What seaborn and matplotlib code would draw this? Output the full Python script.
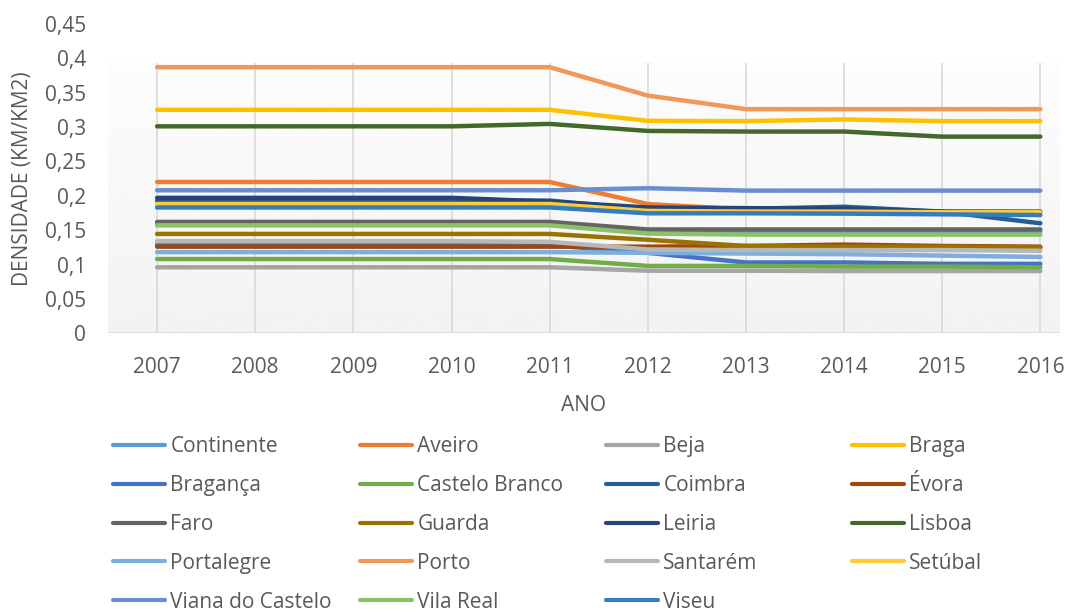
import matplotlib
matplotlib.use("Agg")
import matplotlib.pyplot as plt
import numpy as np
import pandas as pd
import seaborn as sns

years = [2007, 2008, 2009, 2010, 2011, 2012, 2013, 2014, 2015, 2016]

regions = ["Continente", "Aveiro", "Beja", "Braga", "Bragança", "Castelo Branco",
           "Coimbra", "Évora", "Faro", "Guarda", "Leiria", "Lisboa",
           "Portalegre", "Porto", "Santarém", "Setúbal", "Viana do Castelo",
           "Vila Real", "Viseu"]

continente = [0.160, 0.160, 0.160, 0.160, 0.160, 0.148, 0.148, 0.148, 0.148, 0.148]
aveiro = [0.220, 0.220, 0.220, 0.220, 0.220, 0.188, 0.180, 0.179, 0.177, 0.176]
beja = [0.096, 0.096, 0.096, 0.096, 0.096, 0.091, 0.091, 0.0905, 0.0905, 0.0905]
braga = [0.325, 0.325, 0.325, 0.325, 0.325, 0.309, 0.3085, 0.311, 0.3085, 0.3085]
braganca = [0.129, 0.129, 0.129, 0.129, 0.128, 0.117, 0.103, 0.103, 0.101, 0.101]
castelo_branco = [0.108, 0.108, 0.108, 0.108, 0.108, 0.098, 0.098, 0.097, 0.097, 0.096]
coimbra = [0.193, 0.193, 0.193, 0.193, 0.193, 0.180, 0.181, 0.184, 0.177, 0.160]
evora = [0.126, 0.126, 0.126, 0.126, 0.126, 0.126, 0.127, 0.129, 0.127, 0.126]
faro = [0.162, 0.162, 0.162, 0.162, 0.162, 0.151, 0.151, 0.151, 0.151, 0.151]
guarda = [0.1445, 0.1445, 0.1445, 0.1445, 0.1445, 0.136, 0.127, 0.126, 0.126, 0.125]
leiria = [0.197, 0.197, 0.197, 0.197, 0.1915, 0.183, 0.182, 0.181, 0.177, 0.177]
lisboa = [0.301, 0.301, 0.301, 0.301, 0.3045, 0.2943, 0.2934, 0.2934, 0.286, 0.286]
portalegre = [0.118, 0.118, 0.118, 0.118, 0.118, 0.117, 0.116, 0.115, 0.113, 0.111]
porto = [0.387, 0.387, 0.387, 0.387, 0.387, 0.3457, 0.326, 0.326, 0.326, 0.326]
santarem = [0.134, 0.134, 0.134, 0.134, 0.133, 0.122, 0.121, 0.121, 0.121, 0.120]
setubal = [0.188, 0.188, 0.188, 0.188, 0.188, 0.178, 0.177, 0.177, 0.176, 0.176]
viana = [0.208, 0.208, 0.208, 0.208, 0.208, 0.211, 0.2075, 0.2075, 0.2075, 0.2075]
vila_real = [0.157, 0.157, 0.157, 0.157, 0.157, 0.145, 0.1435, 0.1435, 0.1435, 0.1435]
viseu = [0.183, 0.183, 0.183, 0.183, 0.183, 0.1745, 0.1745, 0.174, 0.173, 0.172]

series = [continente, aveiro, beja, braga, braganca, castelo_branco, coimbra, evora,
          faro, guarda, leiria, lisboa, portalegre, porto, santarem, setubal, viana,
          vila_real, viseu]

colors = ["#5B9BD5", "#ED7D31", "#A5A5A5", "#FFC000", "#4472C4", "#70AD47",
          "#255E91", "#9E480E", "#636363", "#997300", "#264478", "#43682B",
          "#7CAFDD", "#F1975A", "#B7B7B7", "#FFCD33", "#698ED0", "#8CC168",
          "#327DC2"]

df = pd.DataFrame({
    "ano": years * len(regions),
    "densidade": [v for s in series for v in s],
    "regiao": [r for r in regions for _ in years],
})

sns.set_style("white")
plt.rcParams["font.family"] = ["Open Sans", "DejaVu Sans"]
txt = "#595959"
fs = 15

fig = plt.figure(figsize=(10.75, 6.12), dpi=100)
ax = fig.add_axes([0.1005, 0.4554, 0.8855, 0.5056])

# plot area gradient background (top part is cut off like the original)
top = 0.393
grad = np.linspace(0.99, 0.95, 256).reshape(-1, 1)
ax.imshow(grad, cmap="gray", vmin=0, vmax=1, aspect="auto",
          extent=[2006.5, 2016.2, 0, top], zorder=0)
ax.vlines(years, 0, top, color="#D9D9D9", lw=1.2, zorder=1)
ax.axhline(0, color="#D9D9D9", lw=1.2, zorder=1)

sns.lineplot(data=df, x="ano", y="densidade", hue="regiao", hue_order=regions,
             palette=colors, lw=3.2, sort=False, ax=ax, zorder=3)
for ln in ax.get_lines():
    ln.set_solid_capstyle("round")

ax.set_xlim(2006.5, 2016.2)
ax.set_ylim(0, 0.45)
ax.set_xticks(years)
ax.set_xticklabels([str(y) for y in years])
yt = np.arange(0, 0.46, 0.05)
ax.set_yticks(yt)
ax.set_yticklabels(["0" if v == 0 else f"{v:.2f}".rstrip("0").replace(".", ",") for v in yt])
ax.tick_params(colors=txt, labelsize=fs, length=0)
ax.tick_params(axis="x", pad=17)
ax.tick_params(axis="y", pad=16)
for s in ax.spines.values():
    s.set_visible(False)
ax.set_xlabel("ANO", color=txt, fontsize=fs, labelpad=12)
ax.set_ylabel("DENSIDADE (KM/KM2)", color=txt, fontsize=fs, labelpad=8)

handles, labels = ax.get_legend_handles_labels()
ax.get_legend().remove()

# legend laid out row by row in 4 fixed-width columns
col_x = [113, 360, 606, 852]
for c in range(4):
    idx = list(range(c, len(regions), 4))
    leg = fig.legend([handles[i] for i in idx], [labels[i] for i in idx],
                     loc="upper left", bbox_to_anchor=(col_x[c] / 1075, 1 - 436 / 612),
                     frameon=False, fontsize=fs, handlelength=2.5, handletextpad=0.25,
                     labelspacing=0.86, borderpad=0, borderaxespad=0,
                     labelcolor=txt)
    for h in leg.legend_handles:
        h.set_linewidth(3)
        h.set_solid_capstyle("round")

fig.savefig("out.png", dpi=100)
